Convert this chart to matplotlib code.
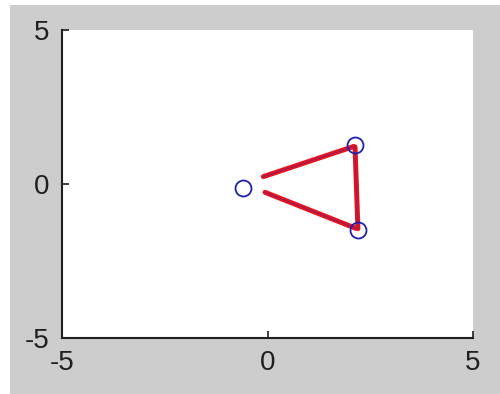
import matplotlib
matplotlib.use("Agg")
import matplotlib.pyplot as plt
from matplotlib.patches import Rectangle

# Node positions (hollow circles)
node_x = [-0.59, 2.13, 2.2]
node_y = [-0.12, 1.27, -1.49]

# Traced edges
upper_x = [-0.1, 2.1]
upper_y = [0.24, 1.22]
lower_x = [-0.06, 2.15]
lower_y = [-0.27, -1.44]
right_x = [2.13, 2.2]
right_y = [1.2, -1.45]

ticks = [-5, 0, 5]
tick_labels = ["-5", "0", "5"]

fig = plt.figure(figsize=(5.0, 3.94), dpi=100, facecolor="white")
backdrop = Rectangle((10 / 500, 0), 490 / 500, 389 / 394,
                     transform=fig.transFigure, facecolor="#cdcdcd",
                     edgecolor="none", zorder=-10)
fig.add_artist(backdrop)
ax = fig.add_axes([62 / 500, 56 / 394, 411 / 500, 308 / 394])
ax.set_facecolor("white")

for xs, ys in [(upper_x, upper_y), (lower_x, lower_y), (right_x, right_y)]:
    ax.plot(xs, ys, color="#e8121c", lw=3.6, solid_capstyle="round", zorder=2)
    ax.plot(xs, ys, color="#4a2aa0", lw=0.8, alpha=0.55, zorder=3)

ax.plot(node_x, node_y, "o", ms=11.5, mfc="none", mec="#2020b0", mew=1.3,
        zorder=4)

ax.set_xlim(-5, 5)
ax.set_ylim(-5, 5)
ax.set_xticks(ticks)
ax.set_xticklabels(tick_labels)
ax.set_yticks(ticks)
ax.set_yticklabels(tick_labels)
for s in ["top", "right"]:
    ax.spines[s].set_visible(False)
for s in ["left", "bottom"]:
    ax.spines[s].set_color("#202020")
    ax.spines[s].set_linewidth(1.5)
ax.tick_params(direction="in", length=5, width=1.2, color="#202020",
               labelsize=20, pad=9, labelcolor="#202020")
for lab in ax.get_xticklabels() + ax.get_yticklabels():
    lab.set_fontfamily("Liberation Sans")

fig.savefig("out.png", dpi=100, facecolor=fig.get_facecolor())
